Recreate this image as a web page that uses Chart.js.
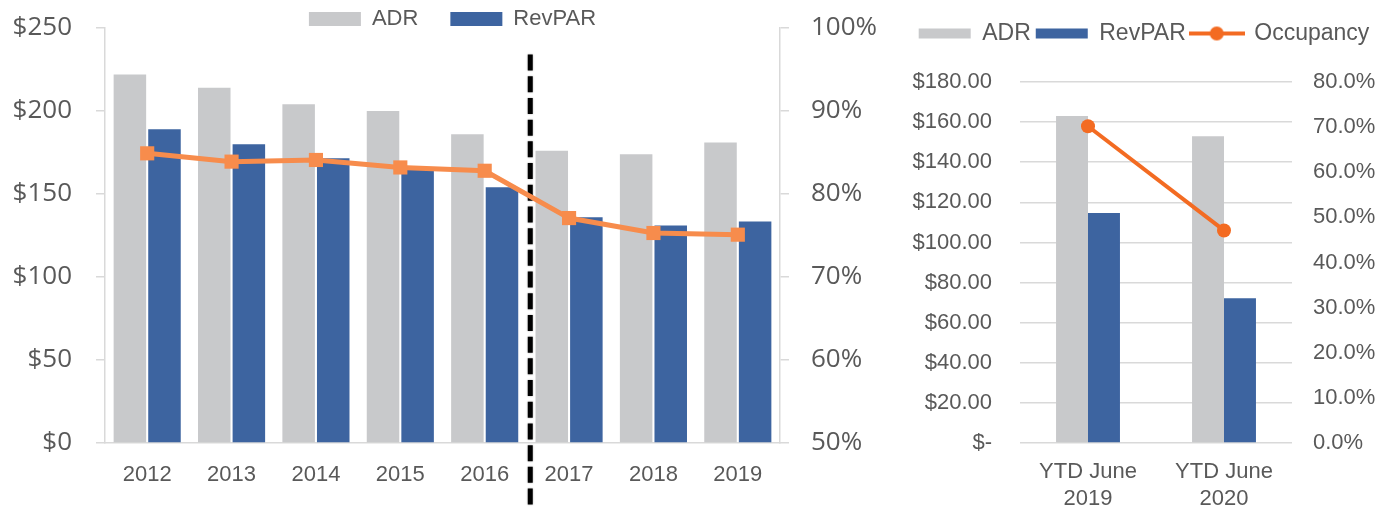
<!DOCTYPE html>
<html><head><meta charset="utf-8">
<script src="https://cdn.jsdelivr.net/npm/chart.js@4"></script>
<style>
html,body{margin:0;padding:0;background:#fff;}
#wrap{position:relative;width:1383px;height:510px;overflow:hidden;}
#c1{position:absolute;left:0;top:0;width:885px;height:510px;}
#c2{position:absolute;left:885px;top:0;width:498px;height:510px;}
</style></head><body>
<div id="wrap"><canvas id="c1" width="885" height="510"></canvas><canvas id="c2" width="498" height="510"></canvas></div>
<script>
// ---- Left chart data ----
const years = ['2012','2013','2014','2015','2016','2017','2018','2019'];
const adr = [222, 214, 204, 200, 186, 176, 174, 181];
const revpar = [189, 180, 171.5, 165, 154, 136, 131, 133.5];
const occupancy = [84.9, 83.9, 84.1, 83.2, 82.8, 77.1, 75.3, 75.1];
const leftDollarTicks = ['$0','$50','$100','$150','$200','$250'];
const leftPctTicks = ['50%','60%','70%','80%','90%','100%'];

// ---- Right chart data ----
const ytdLabels = [['YTD June','2019'], ['YTD June','2020']];
const ytdAdr = [163, 153];
const ytdRevpar = [114.7, 72.2];
const ytdOccupancy = [70.2, 47.1];
const ytdDollarTicks = ['$-','$20.00','$40.00','$60.00','$80.00','$100.00','$120.00','$140.00','$160.00','$180.00'];
const ytdPctTicks = ['0.0%','10.0%','20.0%','30.0%','40.0%','50.0%','60.0%','70.0%','80.0%'];

// divider between actual/forecast periods (category index position)
const dividerAt = 4.54;
const dividerTopValue = 234;

const GRAY = '#C8C9CB', BLUE = '#3D64A0', ORANGE_L = '#F78C4C', ORANGE_R = '#F36B22';
const TXT = '#595959', AXIS = '#D9D9D9';
const ARIAL = "'Liberation Sans',Arial,sans-serif";
const OPEN = "'Open Sans',sans-serif";

const legendFix = {
  id: 'legendFix',
  afterInit(chart, args, opts) {
    const lg = chart.legend;
    if (!lg) return;
    const fit = lg.fit;
    lg.fit = function() { fit.call(this); this.height = opts.height; };
    const draw = lg._draw;
    lg._draw = function() {
      const t = this.top, l = this.left, r = this.right;
      this.top = t + opts.dy; this.left = l + opts.dx; this.right = r + opts.dx;
      draw.call(this);
      this.top = t; this.left = l; this.right = r;
    };
  }
};

const divider = {
  id: 'divider',
  beforeDatasetDraw(chart, args, opts) {
    if (!opts || args.index !== opts.beforeIndex) return;
    const x = chart.scales.x.getPixelForValue(opts.at);
    const top = chart.scales.y.getPixelForValue(opts.topValue);
    const ctx = chart.ctx;
    ctx.save();
    ctx.strokeStyle = '#000';
    ctx.lineWidth = 5;
    ctx.shadowColor = 'rgba(0,0,0,0.35)';
    ctx.shadowBlur = 2;
    ctx.setLineDash([16, 5.7]);
    ctx.beginPath();
    ctx.moveTo(x, top);
    ctx.lineTo(x, chart.height);
    ctx.stroke();
    ctx.restore();
  }
};

const fitY = w => s => { s.width = w; s.paddingTop = 0; s.paddingBottom = 0; };

new Chart(document.getElementById('c1'), {
  data: {
    labels: years,
    datasets: [
      {type:'bar', label:'ADR', data: adr, backgroundColor: GRAY, borderWidth:0, yAxisID:'y', order:2,
       categoryPercentage:0.82, barPercentage:0.94},
      {type:'bar', label:'RevPAR', data: revpar, backgroundColor: BLUE, borderWidth:0, yAxisID:'y', order:2,
       categoryPercentage:0.82, barPercentage:0.94},
      {type:'line', label:'Occupancy', data: occupancy, yAxisID:'y1', order:1,
       borderColor: ORANGE_L, backgroundColor: ORANGE_L, borderWidth:5, tension:0,
       pointStyle:'rect', pointRadius:10, pointBackgroundColor: ORANGE_L, pointBorderWidth:0}
    ]
  },
  options: {
    responsive:false, animation:false, devicePixelRatio:1, events:[],
    layout:{padding:0},
    plugins: {
      tooltip:{enabled:false},
      legend: {
        position:'top',
        labels: {
          boxWidth:52, boxHeight:14, padding:32, color:TXT,
          font:{family:ARIAL, size:22},
          filter: it => it.datasetIndex < 2,
          sort: (a,b) => a.datasetIndex - b.datasetIndex
        }
      },
      legendFix: {height:28, dy:-24, dx:10},
      divider: {beforeIndex:2, at: dividerAt, topValue: dividerTopValue}
    },
    scales: {
      x: {
        grid:{display:false, drawTicks:false},
        border:{display:true, color:AXIS, width:1.5},
        ticks:{color:TXT, font:{family:ARIAL, size:22}, padding:19, maxRotation:0, autoSkip:false},
        afterFit: s => { s.height = 67; }
      },
      y: {
        position:'left', min:0, max:250,
        ticks:{stepSize:50, callback:(v,i) => leftDollarTicks[i], color:TXT, font:{family:OPEN, size:26}, padding:24},
        grid:{drawOnChartArea:false, drawTicks:true, tickLength:9, color:AXIS, lineWidth:1.5},
        border:{display:true, color:AXIS, width:1.5},
        afterFit: fitY(105)
      },
      y1: {
        position:'right', min:50, max:100,
        ticks:{stepSize:10, callback:(v,i) => leftPctTicks[i], color:TXT, font:{family:OPEN, size:26}, padding:22},
        grid:{drawOnChartArea:false, drawTicks:true, tickLength:9, color:AXIS, lineWidth:1.5},
        border:{display:true, color:AXIS, width:1.5},
        afterFit: fitY(105)
      }
    }
  },
  plugins:[legendFix, divider]
});

// legend icon for the occupancy line (line with circle marker)
const occIcon = document.createElement('canvas');
occIcon.width = 56; occIcon.height = 16;
(function(){
  const c = occIcon.getContext('2d');
  c.strokeStyle = ORANGE_R; c.lineWidth = 4;
  c.beginPath(); c.moveTo(0,8); c.lineTo(56,8); c.stroke();
  c.fillStyle = ORANGE_R;
  c.beginPath(); c.arc(28,8,7,0,Math.PI*2); c.fill();
})();

new Chart(document.getElementById('c2'), {
  data: {
    labels: ytdLabels,
    datasets: [
      {type:'bar', label:'ADR', data: ytdAdr, backgroundColor: GRAY, borderWidth:0, yAxisID:'y', order:2,
       categoryPercentage:0.47, barPercentage:1},
      {type:'bar', label:'RevPAR', data: ytdRevpar, backgroundColor: BLUE, borderWidth:0, yAxisID:'y', order:2,
       categoryPercentage:0.47, barPercentage:1},
      {type:'line', label:'Occupancy', data: ytdOccupancy, yAxisID:'y1', order:1,
       borderColor: ORANGE_R, backgroundColor: ORANGE_R, borderWidth:4, tension:0,
       pointStyle:'circle', pointRadius:7, pointBackgroundColor: ORANGE_R, pointBorderWidth:0}
    ]
  },
  options: {
    responsive:false, animation:false, devicePixelRatio:1, events:[],
    layout:{padding:0},
    plugins: {
      tooltip:{enabled:false},
      legend: {
        position:'top',
        labels: {
          usePointStyle:true, pointStyleWidth:52, boxWidth:52, boxHeight:10, padding:5, color:TXT,
          font:{family:ARIAL, size:23},
          sort: (a,b) => a.datasetIndex - b.datasetIndex,
          generateLabels(chart) {
            const items = Chart.defaults.plugins.legend.labels.generateLabels(chart);
            items.forEach(it => { it.pointStyle = it.datasetIndex === 2 ? occIcon : 'rect'; it.lineWidth = 0; });
            return items;
          }
        }
      },
      legendFix: {height:82, dy:17, dx:10}
    },
    scales: {
      x: {
        grid:{display:false, drawTicks:false},
        border:{display:false},
        ticks:{color:TXT, font:{family:ARIAL, size:22}, padding:16, maxRotation:0, autoSkip:false},
        afterFit: s => { s.height = 67; }
      },
      y: {
        position:'left', min:0, max:180,
        ticks:{stepSize:20, callback:(v,i) => ytdDollarTicks[i], color:TXT, font:{family:ARIAL, size:22}, padding:28},
        grid:{drawTicks:false, color:AXIS, lineWidth:1.5},
        border:{display:false},
        afterFit: fitY(135)
      },
      y1: {
        position:'right', min:0, max:80,
        ticks:{stepSize:10, callback:(v,i) => ytdPctTicks[i], color:TXT, font:{family:ARIAL, size:22}, padding:21},
        grid:{display:false, drawTicks:false},
        border:{display:false},
        afterFit: fitY(91)
      }
    }
  },
  plugins:[legendFix]
});
</script>
</body></html>
